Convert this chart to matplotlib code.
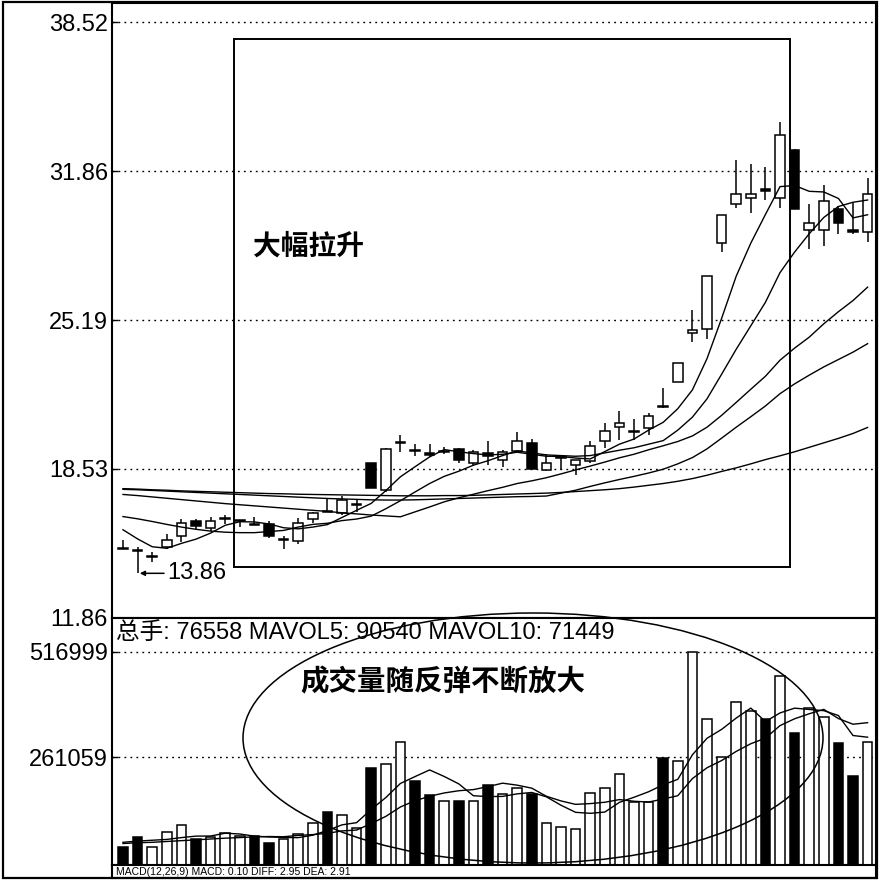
import matplotlib
matplotlib.use("Agg")
import matplotlib.pyplot as plt
from matplotlib.patches import Rectangle, Ellipse
import numpy as np

# ---------------- data ----------------
opens = [14.99, 14.92, 14.59, 15.06, 15.51, 16.18, 15.91, 16.30, 16.22, 16.07,
         16.05, 15.35, 15.30, 16.31, 16.64, 16.57, 16.90, 18.78, 17.57, 19.69,
         19.39, 19.25, 19.31, 19.43, 18.82, 19.25, 18.95, 19.33, 19.70, 18.48,
         19.01, 18.69, 18.91, 19.77, 20.43, 20.20, 20.37, 21.36, 22.41, 24.63,
         24.80, 28.66, 30.41, 30.67, 31.05, 30.67, 32.80, 29.22, 29.22, 30.18,
         29.25, 29.13]
highs = [15.33, 15.05, 14.83, 15.60, 16.27, 16.27, 16.36, 16.49, 16.25, 16.40,
         16.18, 15.51, 16.35, 16.62, 17.25, 17.31, 17.17, 18.80, 19.45, 20.03,
         19.63, 19.63, 19.50, 19.45, 19.37, 19.77, 19.37, 20.17, 19.88, 19.18,
         19.10, 18.95, 19.77, 20.61, 21.12, 20.75, 21.05, 22.17, 23.28, 25.64,
         27.19, 29.90, 32.34, 32.16, 32.06, 34.05, 32.86, 30.37, 31.22, 30.32,
         30.45, 31.56]
lows = [14.95, 13.86, 14.38, 14.97, 15.28, 15.83, 15.77, 16.05, 15.95, 16.03,
        15.46, 14.93, 15.19, 16.13, 16.62, 16.49, 16.60, 17.69, 17.50, 19.27,
        19.13, 19.05, 19.20, 18.81, 18.66, 18.73, 18.60, 19.27, 18.54, 18.45,
        18.48, 18.28, 18.82, 19.49, 19.85, 19.85, 20.07, 21.27, 22.41, 24.20,
        24.33, 28.23, 30.22, 29.97, 30.59, 30.22, 30.15, 28.36, 28.53, 29.03,
        29.03, 28.68]
closes = [14.95, 14.88, 14.63, 15.37, 16.13, 15.96, 16.22, 16.35, 16.25, 16.03,
          15.51, 15.39, 16.12, 16.58, 16.62, 17.13, 16.95, 17.69, 19.43, 19.73,
          19.35, 19.15, 19.35, 18.95, 19.28, 19.10, 19.28, 19.77, 18.54, 18.82,
          19.05, 18.92, 19.58, 20.22, 20.61, 20.24, 20.89, 21.32, 23.28, 24.77,
          27.19, 29.89, 30.82, 30.85, 30.97, 33.46, 30.15, 29.52, 30.52, 29.55,
          29.13, 30.82]

ma5 = [15.81, 15.40, 15.05, 14.98, 15.20, 15.39, 15.66, 16.01, 16.17, 16.16,
       16.07, 15.90, 15.85, 15.93, 16.04, 16.36, 16.68, 16.99, 17.56, 18.18,
       18.63, 19.07, 19.40, 19.30, 19.22, 19.16, 19.19, 19.28, 19.19, 19.10,
       19.09, 19.02, 18.98, 19.31, 19.64, 19.87, 20.27, 20.62, 21.23, 22.07,
       23.47, 25.27, 27.16, 28.64, 29.92, 31.17, 31.22, 30.96, 30.93, 30.64,
       29.77, 29.91]
ma10 = [16.40, 16.30, 16.18, 16.05, 15.93, 15.83, 15.75, 15.70, 15.68, 15.68,
        15.73, 15.78, 15.93, 16.05, 16.10, 16.22, 16.29, 16.42, 16.75, 17.11,
        17.50, 17.88, 18.20, 18.43, 18.70, 18.90, 19.13, 19.34, 19.25, 19.16,
        19.13, 19.10, 19.13, 19.25, 19.37, 19.48, 19.64, 19.80, 20.27, 20.85,
        21.67, 22.77, 23.89, 24.94, 25.99, 27.32, 28.24, 29.06, 29.79, 30.28,
        30.47, 30.57]
ma20 = [17.39, 17.34, 17.28, 17.22, 17.16, 17.10, 17.04, 16.98, 16.93, 16.88,
        16.83, 16.78, 16.73, 16.68, 16.63, 16.57, 16.52, 16.47, 16.43, 16.39,
        16.61, 16.83, 17.06, 17.24, 17.40, 17.56, 17.71, 17.88, 18.00, 18.14,
        18.31, 18.49, 18.66, 18.84, 19.03, 19.19, 19.39, 19.57, 19.76, 20.01,
        20.40, 20.93, 21.51, 22.10, 22.68, 23.40, 23.94, 24.43, 25.03, 25.57,
        26.07, 26.67]
ma30 = [17.62, 17.60, 17.57, 17.54, 17.51, 17.48, 17.45, 17.42, 17.39, 17.36,
        17.33, 17.30, 17.27, 17.24, 17.21, 17.19, 17.17, 17.15, 17.14, 17.14,
        17.15, 17.17, 17.19, 17.21, 17.23, 17.25, 17.27, 17.29, 17.30, 17.32,
        17.45, 17.58, 17.75, 17.91, 18.06, 18.20, 18.35, 18.52, 18.76, 19.04,
        19.43, 19.91, 20.40, 20.87, 21.35, 21.90, 22.34, 22.73, 23.10, 23.43,
        23.76, 24.14]
ma60 = [17.65, 17.63, 17.60, 17.58, 17.55, 17.53, 17.51, 17.49, 17.47, 17.45,
        17.43, 17.42, 17.40, 17.39, 17.38, 17.37, 17.36, 17.35, 17.34, 17.33,
        17.33, 17.33, 17.34, 17.34, 17.35, 17.37, 17.39, 17.41, 17.43, 17.45,
        17.48, 17.52, 17.56, 17.60, 17.65, 17.72, 17.80, 17.88, 17.98, 18.10,
        18.25, 18.42, 18.58, 18.76, 18.95, 19.12, 19.30, 19.50, 19.70, 19.90,
        20.12, 20.39]

volumes = [44350, 67130, 42900, 80700, 96900, 62300, 68600, 76800, 71000, 71000,
           52600, 62300, 74400, 101000, 127700, 121200, 88900, 234400, 244800, 298800,
           204300, 169700, 155100, 155100, 155100, 193900, 172100, 185900, 172100, 102500,
           91400, 86500, 173800, 187300, 219800, 153400, 153400, 258600, 252800, 517000,
           353800, 261000, 395800, 374000, 353800, 458000, 319200, 379800, 359400, 295000,
           215700, 298800]
mavol5 = [55000, 58000, 60000, 62000, 66396, 69986, 70280, 77060, 75120, 69940,
          68000, 66740, 66260, 72260, 83600, 97320, 102640, 134640, 163400, 197620,
          214240, 230400, 214540, 196600, 167860, 165780, 166260, 172420, 175820, 165300,
          144800, 127680, 125260, 128300, 151760, 164160, 177540, 194500, 207600, 267040,
          307120, 328640, 356080, 380320, 347680, 368520, 380160, 376960, 374040, 362280,
          313820, 309740]
mavol10 = [52000, 54000, 55000, 57000, 59000, 61000, 63000, 65000, 66500, 68168,
           68993, 68510, 71660, 73690, 76770, 82660, 84690, 100450, 117830, 140610,
           155780, 166520, 174590, 180000, 182740, 190010, 198330, 193480, 186210, 166580,
           155290, 146970, 148840, 152060, 158530, 154480, 152610, 159880, 167950, 209400,
           235640, 253090, 275290, 293960, 307360, 337820, 354400, 366520, 377180, 354980,
           341170, 344950]

price_ticks = [11.86, 18.53, 25.19, 31.86, 38.52]
price_tick_labels = ["11.86", "18.53", "25.19", "31.86", "38.52"]
vol_ticks = [261059, 516999]
vol_tick_labels = ["261059", "516999"]
low_label = "13.86"
header = "总手: 76558 MAVOL5: 90540 MAVOL10: 71449"
note_price = "大幅拉升"
note_vol = "成交量随反弹不断放大"
bottom_text = "MACD(12,26,9) MACD: 0.10 DIFF: 2.95 DEA: 2.91"

# ---------------- figure ----------------
W, H = 880, 881
fig = plt.figure(figsize=(W / 100, H / 100), dpi=100)
fig.patch.set_facecolor("white")


def fx(px):
    return px / W


def fy(py):
    return 1 - py / H


LEFT, RIGHT = 112, 876
ax = fig.add_axes([fx(LEFT), fy(618), fx(RIGHT) - fx(LEFT), fy(3) - fy(618)])
axv = fig.add_axes([fx(LEFT), fy(865), fx(RIGHT) - fx(LEFT), fy(618) - fy(865)])
axm = fig.add_axes([fx(LEFT), fy(878), fx(RIGHT) - fx(LEFT), fy(865) - fy(878)])

n = len(closes)
x = np.arange(n)
xlim = ((LEFT - 123) / 14.6, (RIGHT - 123) / 14.6)

LBL = dict(family=["Liberation Sans", "DejaVu Sans"], size=17)
lw = 1.1
bw = 0.66

# ----- price panel -----
for i in range(n):
    o, h, l, c = opens[i], highs[i], lows[i], closes[i]
    ax.plot([i, i], [l, h], color="black", lw=lw, zorder=2, solid_capstyle="butt")
    up = c >= o
    ax.add_patch(Rectangle((i - bw / 2, min(o, c)), bw, abs(c - o),
                           facecolor="white" if up else "black",
                           edgecolor="black", lw=lw, zorder=3))

for ma in (ma5, ma10, ma20, ma30, ma60):
    ax.plot(x, ma, color="black", lw=1.0, zorder=4)

for t in price_ticks[1:]:
    ax.axhline(t, color="black", lw=1.0, ls=(0, (1.3, 3.0)), zorder=1)

ax.set_xlim(*xlim)
ax.set_ylim(11.86, 11.86 + 615 / 22.34)
ax.set_yticks(price_ticks)
ax.set_yticklabels(price_tick_labels, **LBL)
ax.set_xticks([])

ax.annotate(low_label, xy=(1.15, lows[1]), xytext=(3.0, lows[1]),
            ha="left", va="center", fontfamily=LBL["family"], fontsize=17,
            arrowprops=dict(arrowstyle="-|>", color="black", lw=1.1,
                            shrinkA=0, shrinkB=0, mutation_scale=7))

fig.text(fx(253), fy(247), note_price, family=["Noto Sans CJK SC"],
         weight="bold", fontsize=20, ha="left", va="center")

# ----- volume panel -----
vcol = ["white" if closes[i] >= opens[i] else "black" for i in range(n)]
axv.bar(x, volumes, width=bw, color=vcol, edgecolor="black", lw=lw, zorder=3)
axv.plot(x, mavol5, color="black", lw=1.0, zorder=4)
axv.plot(x, mavol10, color="black", lw=1.0, zorder=4)
for t in vol_ticks:
    axv.axhline(t, color="black", lw=1.0, ls=(0, (1.3, 3.0)), zorder=1)
axv.set_xlim(*xlim)
axv.set_ylim(0, 247 * 2423.6)
axv.set_yticks(vol_ticks)
axv.set_yticklabels(vol_tick_labels, **LBL)
axv.set_xticks([])

fig.text(fx(116), fy(633), header, family=["Liberation Sans", "Noto Sans CJK SC"],
         fontsize=17, ha="left", va="center")
fig.text(fx(300), fy(682), note_vol, family=["Noto Sans CJK SC"],
         weight="bold", fontsize=20.5, ha="left", va="center")

# ----- bottom (narrow) panel -----
axm.set_xlim(0, 1)
axm.set_ylim(0, 1)
axm.set_xticks([])
axm.set_yticks([])
axm.text(0.005, 0.45, bottom_text, ha="left", va="center", family=LBL["family"],
         fontsize=7.5)

for a in (ax, axv, axm):
    a.set_facecolor("white")
    for s in a.spines.values():
        s.set_linewidth(1.5)
        s.set_color("black")
    a.tick_params(axis="y", direction="in", length=4, width=1.0, pad=3, colors="black")

# ----- annotations drawn on the figure -----
fig.add_artist(Rectangle((fx(234), fy(567)), fx(790) - fx(234), fy(39) - fy(567),
                         transform=fig.transFigure, fill=False, edgecolor="black",
                         lw=1.4, zorder=10))
fig.add_artist(Ellipse((fx(533), fy(738)), 580 / W, 250 / H,
                       transform=fig.transFigure, fill=False, edgecolor="black",
                       lw=1.1, zorder=10))
fig.add_artist(Rectangle((fx(3), fy(878)), fx(877) - fx(3), fy(2) - fy(878),
                         transform=fig.transFigure, fill=False, edgecolor="black",
                         lw=1.6, zorder=10))

fig.savefig("out.png", dpi=100, facecolor="white")
